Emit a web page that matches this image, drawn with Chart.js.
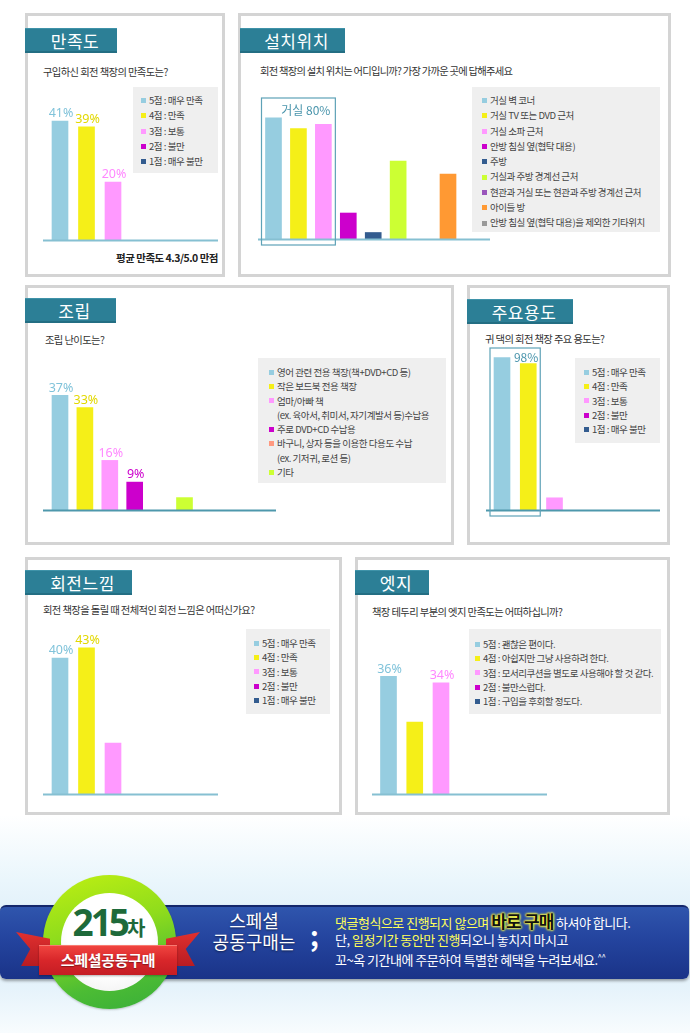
<!DOCTYPE html>
<html>
<head>
<meta charset="utf-8">
<script src="https://cdn.jsdelivr.net/npm/chart.js@4.4.1/dist/chart.umd.min.js"></script>
<style>
  body { margin: 0; width: 690px; height: 1033px; position: relative; overflow: hidden; background: #fff;
         font-family: "Noto Sans CJK KR", "Noto Sans", sans-serif; }
  .abs { position: absolute; }
  .panel { position: absolute; box-sizing: border-box; border: 3px solid #d4d4d4; background: #fff; }
  .tab { position: absolute; height: 25px; background: #2c7f96; color: #fff; font-size: 17px; line-height: 24px;
         box-sizing: border-box; border-bottom: 2px solid #236e83; border-top: 1px solid #3f93a9;
         text-align: center; padding-left: 8px; letter-spacing: 0.5px; }
  .q { position: absolute; font-size: 10.3px; color: #333; white-space: nowrap; letter-spacing: -0.6px; line-height: 12px; }
  .legend { position: absolute; background: #efefef; box-sizing: border-box; font-size: 9.5px; color: #444;
            letter-spacing: -0.45px; white-space: nowrap; }
  .li { position: relative; white-space: pre; }
  .li i { position: absolute; left: 0; width: 5px; height: 5px; }
  .chart { position: absolute; }
  #bg { left: 0; top: 815px; width: 690px; height: 218px;
        background: linear-gradient(#ffffff 0%, #eaf6fc 30%, #dcedf8 55%, #e6f3fb 80%, #f8fcfe 100%); }
  #band { left: 0; top: 905px; width: 689px; height: 74px; border-radius: 6px;
          background: linear-gradient(#2f55ad, #24449e 45%, #1a3388);
          box-shadow: 0 2px 3px rgba(0,0,0,0.35); border-top: 2px solid #14276b; box-sizing: border-box; }
  #ring { left: 43px; top: 875px; width: 133px; height: 134px; border-radius: 50%;
          background: linear-gradient(165deg, #c0f012 0%, #8fdc1c 40%, #4cbc34 75%, #37ad3a 100%);
          box-shadow: 0 1px 2px rgba(0,0,0,0.2); }
  #inner { left: 61px; top: 893px; width: 97px; height: 98px; border-radius: 50%;
           background: radial-gradient(circle at 50% 40%, #ffffff 55%, #ececec 100%); }
  #num { left: 54px; top: 896px; width: 110px; text-align: center; color: #1e6a3a; font-weight: bold; white-space: nowrap; }
  #num .n { font-family: "Noto Sans", sans-serif; font-size: 37px; letter-spacing: -3px; }
  #num .c { font-size: 20px; }
  .tail { top: 932px; width: 34px; height: 34px; background: linear-gradient(#e0302f, #b81c22); }
  #tailL { left: 16px; clip-path: polygon(0 0, 100% 20%, 100% 100%, 15% 100%, 42% 50%); }
  #tailR { left: 166px; clip-path: polygon(0 20%, 100% 0, 58% 50%, 85% 100%, 0 100%); }
  #ribbon { left: 39px; top: 945px; width: 138px; height: 30px; box-sizing: border-box;
            background: linear-gradient(#f0443f, #d8262a 50%, #c51d24); border-top: 1px solid #f87b72;
            color: #fff; font-weight: bold; font-size: 15px; line-height: 28px; text-align: center; letter-spacing: -0.3px;
            text-shadow: 0 1px 1px rgba(0,0,0,0.35); box-shadow: 0 1px 2px rgba(0,0,0,0.3); }
  #special { left: 198px; top: 910px; width: 112px; text-align: center; color: #fff; font-size: 18px; line-height: 21px;
             text-shadow: 0 1px 2px rgba(0,0,0,0.5); }
  #semi { left: 310px; top: 915px; color: #fff; font-size: 27px; font-weight: bold; }
  .line { left: 335px; color: #fff; font-size: 13px; letter-spacing: -0.5px; white-space: nowrap; line-height: 18px; }
  .line .y { color: #ffff5a; }
  .line .k { color: #111; font-weight: bold; font-size: 17px; letter-spacing: -0.8px;
             text-shadow: 0 0 2px #ffff40, 0 0 2px #ffff40, 0 0 3px #ffff40, 0 0 3px #ffff40; }
  .line sup { font-size: 8px; }
</style>
</head>
<body>

<div class="panel" style="left:25px;top:13px;width:200px;height:264px"></div>
<div class="panel" style="left:238px;top:13px;width:433px;height:264px"></div>
<div class="panel" style="left:25px;top:285px;width:429px;height:260px"></div>
<div class="panel" style="left:467px;top:285px;width:203px;height:260px"></div>
<div class="panel" style="left:25px;top:557px;width:317px;height:258px"></div>
<div class="panel" style="left:355px;top:557px;width:315px;height:258px"></div>

<div class="tab" style="left:25px;top:28px;width:92px">만족도</div>
<div class="tab" style="left:240px;top:28px;width:105px">설치위치</div>
<div class="tab" style="left:25px;top:298px;width:91px">조립</div>
<div class="tab" style="left:467px;top:299px;width:106px">주요용도</div>
<div class="tab" style="left:25px;top:570px;width:107px">회전느낌</div>
<div class="tab" style="left:355px;top:570px;width:74px">엣지</div>

<div class="q" style="left:43px;top:66px">구입하신 회전 책장의 만족도는?</div>
<div class="q" style="left:260px;top:65px;letter-spacing:-0.75px">회전 책장의 설치 위치는 어디입니까? 가장 가까운 곳에 답해주세요</div>
<div class="q" style="left:45px;top:334px">조립 난이도는?</div>
<div class="q" style="left:485px;top:333px">귀 댁의 회전 책장 주요 용도는?</div>
<div class="q" style="left:43px;top:604px">회전 책장을 돌릴 때 전체적인 회전 느낌은 어떠신가요?</div>
<div class="q" style="left:372px;top:606px">책장 테두리 부분의 엣지 만족도는 어떠하십니까?</div>

<div class="abs" style="left:90px;top:250px;width:128px;text-align:right;font-size:10.5px;font-weight:bold;color:#222;letter-spacing:-0.5px;white-space:nowrap">평균 만족도 4.3/5.0 만점</div>

<div class="legend" id="lg1" style="left:133px;top:87px;width:85px;height:86px"></div>
<div class="legend" id="lg2" style="left:472px;top:87px;width:188px;height:145px"></div>
<div class="legend" id="lg3" style="left:258px;top:358px;width:188px;height:125px"></div>
<div class="legend" id="lg4" style="left:575px;top:358px;width:85px;height:85px"></div>
<div class="legend" id="lg5" style="left:246px;top:629px;width:84px;height:85px"></div>
<div class="legend" id="lg6" style="left:469px;top:629px;width:192px;height:85px"></div>

<div class="chart" id="c1"><canvas></canvas></div>
<div class="chart" id="c2"><canvas></canvas></div>
<div class="chart" id="c3"><canvas></canvas></div>
<div class="chart" id="c4"><canvas></canvas></div>
<div class="chart" id="c5"><canvas></canvas></div>
<div class="chart" id="c6"><canvas></canvas></div>

<div class="abs" id="bg"></div>
<div class="abs" id="band"></div>
<div class="abs" id="ring"></div>
<div class="abs" id="inner"></div>
<div class="abs" id="num"><span class="n">215</span><span class="c">차</span></div>
<div class="abs tail" id="tailL"></div>
<div class="abs tail" id="tailR"></div>
<div class="abs" id="ribbon">스페셜공동구매</div>
<div class="abs" id="special">스페셜<br>공동구매는</div>
<div class="abs" id="semi">;</div>
<div class="abs line" style="top:912px"><span class="y">댓글형식으로 진행되지 않으며</span> <span class="k">바로 구매</span> 하셔야 합니다.</div>
<div class="abs line" style="top:931px">단, <span class="y">일정기간 동안만 진행</span>되오니 놓치지 마시고</div>
<div class="abs line" style="top:948px">꼬~옥 기간내에 주문하여 특별한 혜택을 누려보세요.<sup>^^</sup></div>

<script>
// survey answers (percent)
const scoreCategories = ['5점 : 매우 만족', '4점 : 만족', '3점 : 보통', '2점 : 불만', '1점 : 매우 불만'];
const satisfactionValues = [41, 39, 20, 0, 0];
const satisfactionLabels = ['41%', '39%', '20%', '', ''];

const locationCategories = ['거실 벽 코너', '거실 TV 또는 DVD 근처', '거실 소파 근처', '안방 침실 옆(협탁 대용)', '주방',
  '거실과 주방 경계선 근처', '현관과 거실 또는 현관과 주방 경계선 근처', '아이들 방', '안방 침실 옆(협탁 대용)을 제외한 기타위치'];
const locationValues = [28, 25.5, 26.5, 6, 1.5, 18, 0, 15, 0];
const locationHighlight = '거실 80%';

const assemblyCategories = ['영어 관련 전용 책장(책+DVD+CD 등)', '작은 보드북 전용 책장',
  '엄마/아빠 책\n(ex. 육아서, 취미서, 자기계발서 등)수납용', '주로 DVD+CD 수납용',
  '바구니, 상자 등을 이용한 다용도 수납\n(ex. 기저귀, 로션 등)', '기타'];
const assemblyValues = [37, 33, 16, 9, 0, 4];
const assemblyLabels = ['37%', '33%', '16%', '9%', '', ''];

const usageValues = [50, 48, 4, 0, 0];
const usageHighlight = '98%';

const rotationValues = [40, 43, 15, 0, 0];
const rotationLabels = ['40%', '43%', '', '', ''];

const edgeCategories = ['5점 : 괜찮은 편이다.', '4점 : 아쉽지만 그냥 사용하려 한다.', '3점 : 모서리쿠션을 별도로 사용해야 할 것 같다.',
  '2점 : 불만스럽다.', '1점 : 구입을 후회할 정도다.'];
const edgeValues = [36, 22, 34, 0, 0];
const edgeLabels = ['36%', '', '34%', '', ''];

const scoreColors = ['#96cde0', '#f5ef18', '#ff99ff', '#cc00cc', '#335c8f'];
const locationColors = ['#96cde0', '#f5ef18', '#ff99ff', '#cc00cc', '#335c8f', '#ccff33', '#9955bb', '#ff9933', '#999999'];
const assemblyColors = ['#96cde0', '#f5ef18', '#ff99ff', '#cc00cc', '#ff9980', '#ccff33'];
const labelColors = { '#96cde0': '#80c3da', '#f5ef18': '#e2d800', '#ff99ff': '#ff88ff', '#cc00cc': '#cc00cc' };

function legend(id, names, colors, lineH, padTop, padLeft) {
  const box = document.getElementById(id);
  box.style.padding = padTop + 'px 0 0 ' + padLeft + 'px';
  names.forEach((name, i) => {
    const row = document.createElement('div');
    row.className = 'li';
    row.style.lineHeight = lineH + 'px';
    row.style.paddingLeft = '8px';
    row.innerHTML = '<i style="top:' + (lineH / 2 - 2.5) + 'px;background:' + colors[i] + '"></i>';
    row.appendChild(document.createTextNode(name));
    box.appendChild(row);
  });
}

const barPlugin = {
  id: 'marks',
  afterDatasetsDraw(chart, args, opts) {
    const ctx = chart.ctx;
    const area = chart.chartArea;
    const y0 = chart.scales.y.getPixelForValue(0);
    ctx.save();
    ctx.fillStyle = opts.baseColor;
    ctx.fillRect(area.left, y0 - 0.5, area.right - area.left, 2);

    const bars = chart.getDatasetMeta(0).data;
    ctx.font = '12.5px "Noto Sans", sans-serif';
    ctx.textAlign = 'center';
    ctx.textBaseline = 'bottom';
    (opts.labels || []).forEach((txt, i) => {
      if (!txt) return;
      ctx.fillStyle = labelColors[opts.colors[i]] || opts.colors[i];
      ctx.fillText(txt, bars[i].x + 1, bars[i].y - 1);
    });

    if (opts.highlight) {
      const h = opts.highlight;
      const x1 = bars[h.from].x - 12, x2 = bars[h.to].x + 12;
      const top = area.top + 1, bottom = y0 + 6;
      ctx.strokeStyle = '#5ea2b7';
      ctx.lineWidth = 1.2;
      ctx.strokeRect(x1, top, x2 - x1, bottom - top);
      ctx.fillStyle = '#4a95ac';
      ctx.font = '12px "Noto Sans CJK KR", sans-serif';
      ctx.textAlign = 'right';
      ctx.textBaseline = 'middle';
      ctx.fillText(h.text, x2 - h.dx, top + h.dy);
    }
    ctx.restore();
  }
};

function barChart(id, g, values, colors, labels, baseColor, highlight) {
  const wrap = document.getElementById(id);
  wrap.style.left = g.left + 'px';
  wrap.style.top = g.top + 'px';
  wrap.style.width = (g.right - g.left) + 'px';
  wrap.style.height = (g.base - g.top + 8) + 'px';
  new Chart(wrap.querySelector('canvas'), {
    type: 'bar',
    data: {
      datasets: [{
        // empty answers get no bar at all
        data: values.map((v, i) => ({ x: i + 1, y: v === 0 ? null : v })),
        backgroundColor: colors,
        borderWidth: 0,
        barThickness: 16,
      }],
    },
    options: {
      responsive: true,
      maintainAspectRatio: false,
      animation: false,
      layout: { padding: { bottom: 8 } },
      plugins: {
        legend: { display: false },
        tooltip: { enabled: false },
        marks: { labels: labels, colors: colors, baseColor: baseColor, highlight: highlight },
      },
      scales: {
        x: {
          type: 'linear', display: false, offset: false,
          min: 1 - (g.first - g.left) / g.step,
          max: 1 + (g.right - g.first) / g.step,
        },
        y: { display: false, min: 0, max: (g.base - g.top) / g.px },
      },
    },
    plugins: [barPlugin],
  });
}

legend('lg1', scoreCategories, scoreColors, 15.3, 6, 8);
legend('lg2', locationCategories, locationColors, 15.3, 6, 10);
legend('lg3', assemblyCategories, assemblyColors, 14.3, 7, 11);
legend('lg4', scoreCategories, scoreColors, 14.3, 7, 9);
legend('lg5', scoreCategories, scoreColors, 14.3, 7, 8);
legend('lg6', edgeCategories, scoreColors, 14.3, 8, 6);

barChart('c1', { left: 43, right: 218, base: 240, top: 95, first: 60, step: 26.5, px: 2.9 },
  satisfactionValues, scoreColors, satisfactionLabels, '#86c0d2');
barChart('c2', { left: 258, right: 490, base: 239, top: 97, first: 273.5, step: 24.93, px: 4.33 },
  locationValues, locationColors, [], '#86c0d2', { from: 0, to: 2, text: locationHighlight, dx: 5, dy: 12 });
barChart('c3', { left: 43, right: 276, base: 510, top: 375, first: 60, step: 24.9, px: 3.1 },
  assemblyValues, assemblyColors, assemblyLabels, '#4e98ac');
barChart('c4', { left: 486, right: 660, base: 510, top: 347, first: 502, step: 26.25, px: 3.05 },
  usageValues, scoreColors, [], '#4e98ac', { from: 0, to: 1, text: usageHighlight, dx: 2, dy: 9 });
barChart('c5', { left: 43, right: 218, base: 794, top: 625, first: 60, step: 26.5, px: 3.4 },
  rotationValues, scoreColors, rotationLabels, '#86c0d2');
barChart('c6', { left: 372, right: 547, base: 794, top: 655, first: 388.5, step: 26.25, px: 3.27 },
  edgeValues, scoreColors, edgeLabels, '#86c0d2');
</script>
</body>
</html>
